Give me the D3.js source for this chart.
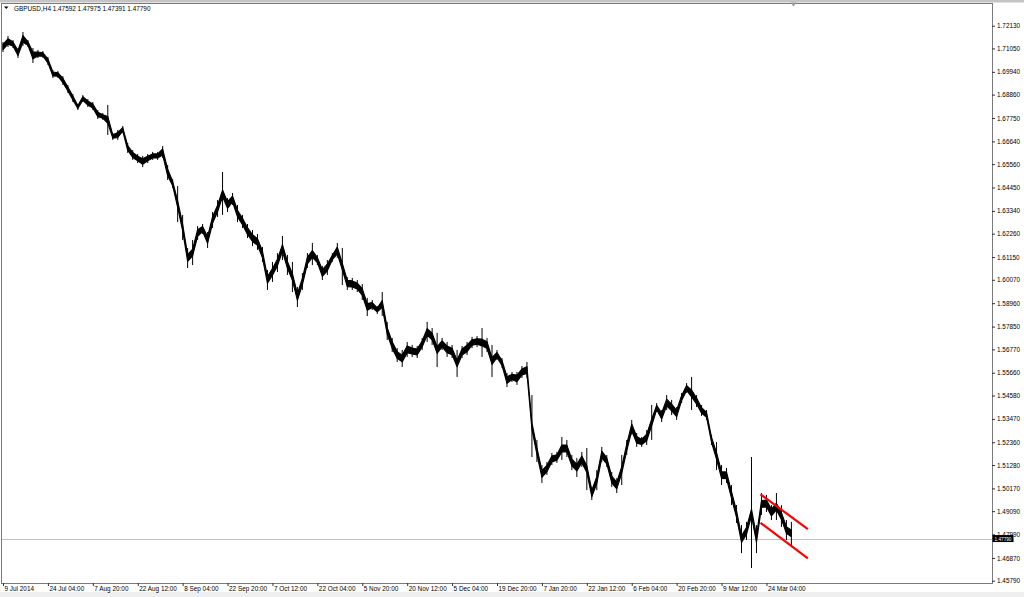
<!DOCTYPE html>
<html>
<head>
<meta charset="utf-8">
<script src="https://cdn.jsdelivr.net/npm/d3@7"></script>
<style>
  body { margin: 0; background: #fff; }
  svg { display: block; }
  text { font-family: "Liberation Sans", Arial, sans-serif; font-size: 6.4px; fill: #000; }
</style>
</head>
<body>
<svg id="chart"></svg>
<script>
// GBPUSD H4, one sample = high/low of a small group of bars
let title = "GBPUSD,H4  1.47592 1.47975 1.47391 1.47790";

let highs = [
  1.7136, 1.7164, 1.7145, 1.7107, 1.7183, 1.7145, 1.7107, 1.7098, 1.7093, 1.7065,
  1.7003, 1.6998, 1.6974, 1.6932, 1.6889, 1.6841, 1.6884, 1.6865, 1.6851, 1.6813,
  1.6799, 1.6837, 1.6704, 1.6718, 1.6737, 1.6656, 1.6623, 1.6604, 1.6595, 1.6604,
  1.6614, 1.6614, 1.6642, 1.6552, 1.6485, 1.6452, 1.6315, 1.6158, 1.6196, 1.6262,
  1.6272, 1.6234, 1.6329, 1.6386, 1.6519, 1.6395, 1.6419, 1.6362, 1.6315, 1.6272,
  1.6243, 1.6224, 1.6163, 1.6054, 1.6092, 1.6134, 1.6215, 1.6125, 1.6092, 1.5973,
  1.6039, 1.6134, 1.6182, 1.6125, 1.6073, 1.6101, 1.6134, 1.6182, 1.6158, 1.6020,
  1.6016, 1.6006, 1.5987, 1.5921, 1.5911, 1.5883, 1.5949, 1.5807, 1.5731, 1.5683,
  1.5674, 1.5712, 1.5698, 1.5693, 1.5731, 1.5807, 1.5778, 1.5755, 1.5731, 1.5712,
  1.5698, 1.5674, 1.5693, 1.5712, 1.5736, 1.5740, 1.5778, 1.5731, 1.5698, 1.5674,
  1.5636, 1.5565, 1.5570, 1.5570, 1.5598, 1.5617, 1.5460, 1.5247, 1.5128, 1.5142,
  1.5185, 1.5190, 1.5261, 1.5247, 1.5176, 1.5161, 1.5190, 1.5209, 1.5024, 1.5104,
  1.5214, 1.5176, 1.5095, 1.5066, 1.5176, 1.5247, 1.5342, 1.5280, 1.5261, 1.5294,
  1.5413, 1.5422, 1.5389, 1.5460, 1.5437, 1.5403, 1.5470, 1.5517, 1.5546, 1.5460,
  1.5413, 1.5389, 1.5271, 1.5237, 1.5128, 1.5114, 1.5033, 1.4938, 1.4843, 1.4858,
  1.5166, 1.4843, 1.4995, 1.4986, 1.4938, 1.4995, 1.4938, 1.4867, 1.4858
];

let lows = [
  1.7088, 1.7112, 1.7107, 1.7060, 1.7117, 1.7112, 1.7036, 1.7060, 1.7060, 1.7027,
  1.6965, 1.6965, 1.6932, 1.6894, 1.6851, 1.6813, 1.6851, 1.6827, 1.6813, 1.6770,
  1.6766, 1.6694, 1.6671, 1.6671, 1.6704, 1.6609, 1.6576, 1.6561, 1.6542, 1.6561,
  1.6576, 1.6576, 1.6585, 1.6481, 1.6443, 1.6281, 1.6196, 1.6063, 1.6077, 1.6196,
  1.6224, 1.6158, 1.6253, 1.6305, 1.6315, 1.6329, 1.6362, 1.6281, 1.6253, 1.6205,
  1.6167, 1.6149, 1.6092, 1.5959, 1.5997, 1.6044, 1.6101, 1.6030, 1.5949, 1.5878,
  1.5959, 1.6063, 1.6077, 1.6077, 1.6006, 1.6030, 1.6092, 1.6111, 1.5982, 1.5959,
  1.5959, 1.5949, 1.5911, 1.5835, 1.5864, 1.5845, 1.5835, 1.5721, 1.5664, 1.5617,
  1.5593, 1.5641, 1.5641, 1.5636, 1.5674, 1.5712, 1.5698, 1.5593, 1.5674, 1.5641,
  1.5636, 1.5546, 1.5636, 1.5650, 1.5683, 1.5688, 1.5641, 1.5664, 1.5546, 1.5626,
  1.5589, 1.5498, 1.5522, 1.5508, 1.5541, 1.5541, 1.5166, 1.5142, 1.5043, 1.5081,
  1.5128, 1.5138, 1.5152, 1.5166, 1.5104, 1.5071, 1.5119, 1.5009, 1.4962, 1.5009,
  1.5142, 1.5119, 1.5024, 1.4995, 1.5033, 1.5176, 1.5271, 1.5214, 1.5214, 1.5223,
  1.5247, 1.5380, 1.5332, 1.5389, 1.5365, 1.5342, 1.5422, 1.5470, 1.5389, 1.5403,
  1.5361, 1.5342, 1.5223, 1.5104, 1.5033, 1.5043, 1.4938, 1.4853, 1.4710, 1.4772,
  1.4639, 1.4710, 1.4891, 1.4905, 1.4867, 1.4867, 1.4834, 1.4772, 1.4748
];

let xTickLabels = ["9 Jul 2014", "24 Jul 04:00", "7 Aug 20:00", "22 Aug 12:00", "8 Sep 04:00",
  "22 Sep 20:00", "7 Oct 12:00", "22 Oct 04:00", "5 Nov 20:00", "20 Nov 12:00", "5 Dec 04:00",
  "19 Dec 20:00", "7 Jan 20:00", "22 Jan 12:00", "6 Feb 04:00", "20 Feb 20:00", "9 Mar 12:00",
  "24 Mar 04:00"];
let xTickIndex = [0, 9, 18, 27, 36, 45, 54, 63, 72, 81, 90, 99, 108, 117, 126, 135, 144, 153];

let yTicks = [1.72130, 1.71050, 1.69940, 1.68860, 1.67750, 1.66640, 1.65560, 1.64450, 1.63340,
  1.62260, 1.61150, 1.60070, 1.58960, 1.57850, 1.56770, 1.55660, 1.54580, 1.53470, 1.52360,
  1.51280, 1.50170, 1.49090, 1.47990, 1.46870, 1.45790];

let lastPrice = 1.47790;

// hand drawn channel (index, price)
let channelUpper = [[151.8, 1.4989], [161.3, 1.4824]];
let channelLower = [[151.8, 1.4854], [161.3, 1.4685]];

let W = 1024, H = 597;
let plot = {left: 1, top: 3, right: 992, bottom: 583};

let svg = d3.select("#chart").attr("width", W).attr("height", H);

svg.append("rect").attr("x", 0).attr("y", 0).attr("width", W).attr("height", H).attr("fill", "#fff");
svg.append("rect").attr("x", 0).attr("y", 592).attr("width", W).attr("height", 5).attr("fill", "#efefef");
svg.append("rect").attr("x", 0).attr("y", 0).attr("width", W).attr("height", 2.5).attr("fill", "#c4c4c4");

let x = d3.scaleLinear().domain([0, 198.2]).range([3, plot.right]);
let y = d3.scaleLinear().domain([1.45790, 1.72130]).range([580.7, 25.7]);

// frame
svg.append("rect")
  .attr("x", plot.left + 0.5).attr("y", plot.top + 0.5)
  .attr("width", plot.right - plot.left).attr("height", plot.bottom - plot.top)
  .attr("fill", "none").attr("stroke", "#7a7a7a").attr("stroke-width", 1);

// chart shift marker
svg.append("path").attr("d", "M790.5,2.5 L796.5,2.5 L793.5,6.5 Z").attr("fill", "#9a9a9a");

// current price line
svg.append("line")
  .attr("x1", plot.left + 1).attr("x2", plot.right)
  .attr("y1", Math.round(y(lastPrice)) + 0.5).attr("y2", Math.round(y(lastPrice)) + 0.5)
  .attr("stroke", "#c0c0c0").attr("stroke-width", 1);

// price: thin body through the middle of each range, whiskers for the full range
let bars = highs.map(function(h, i) { return {i: i, high: h, low: lows[i]}; });
function halfBody(d) { return Math.min((d.high - d.low) * 0.25, 0.0016); }

let band = d3.area()
  .x(function(d) { return x(d.i); })
  .y0(function(d) { return y((d.high + d.low) / 2 - halfBody(d)); })
  .y1(function(d) { return y((d.high + d.low) / 2 + halfBody(d)); });

svg.append("path")
  .datum(bars)
  .attr("d", band)
  .attr("fill", "#000").attr("stroke", "#000").attr("stroke-width", 1.1)
  .attr("stroke-linejoin", "round");

svg.append("g").selectAll("line")
  .data(bars)
  .enter().append("line")
    .attr("x1", function(d) { return x(d.i); })
    .attr("x2", function(d) { return x(d.i); })
    .attr("y1", function(d) { return y(d.high); })
    .attr("y2", function(d) { return y(d.low); })
    .attr("stroke", "#000").attr("stroke-width", 1);

// red channel
let seg = d3.line().x(function(d) { return x(d[0]); }).y(function(d) { return y(d[1]); });
[channelUpper, channelLower].forEach(function(c) {
  svg.append("path").attr("d", seg(c))
    .attr("fill", "none").attr("stroke", "#ff0000").attr("stroke-width", 2.2);
});

// right axis
let yAxis = svg.append("g")
  .attr("transform", "translate(" + plot.right + ",0)")
  .call(d3.axisRight(y).tickValues(yTicks).tickFormat(d3.format(".5f")).tickSize(3).tickPadding(2));
yAxis.select(".domain").remove();
yAxis.selectAll("line").attr("stroke", "#333");
yAxis.selectAll("text").attr("font-size", null).attr("font-family", null).attr("fill", "#000");

// bottom axis
let xAxis = svg.append("g")
  .attr("transform", "translate(0," + plot.bottom + ")")
  .call(d3.axisBottom(x).tickValues(xTickIndex)
    .tickFormat(function(d, i) { return xTickLabels[i]; }).tickSize(3));
xAxis.select(".domain").remove();
xAxis.selectAll("line").attr("stroke", "#333");
xAxis.selectAll("text")
  .attr("text-anchor", "start").attr("x", 1).attr("y", 3).attr("dy", "0.71em")
  .attr("font-size", null).attr("font-family", null).attr("fill", "#000");

// last price box
let py = y(lastPrice);
svg.append("rect").attr("x", plot.right + 0.5).attr("y", py - 3.5)
  .attr("width", 21).attr("height", 7).attr("fill", "#000");
svg.append("text").attr("x", plot.right + 2.5).attr("y", py + 2)
  .attr("textLength", 17).attr("lengthAdjust", "spacingAndGlyphs")
  .style("fill", "#fff").style("font-size", "5.4px")
  .text(d3.format(".5f")(lastPrice));

// title
svg.append("path").attr("d", "M4,6.5 L8.5,6.5 L6.25,9 Z").attr("fill", "#000");
svg.append("text").attr("x", 14).attr("y", 10.5).text(title);
</script>
</body>
</html>
